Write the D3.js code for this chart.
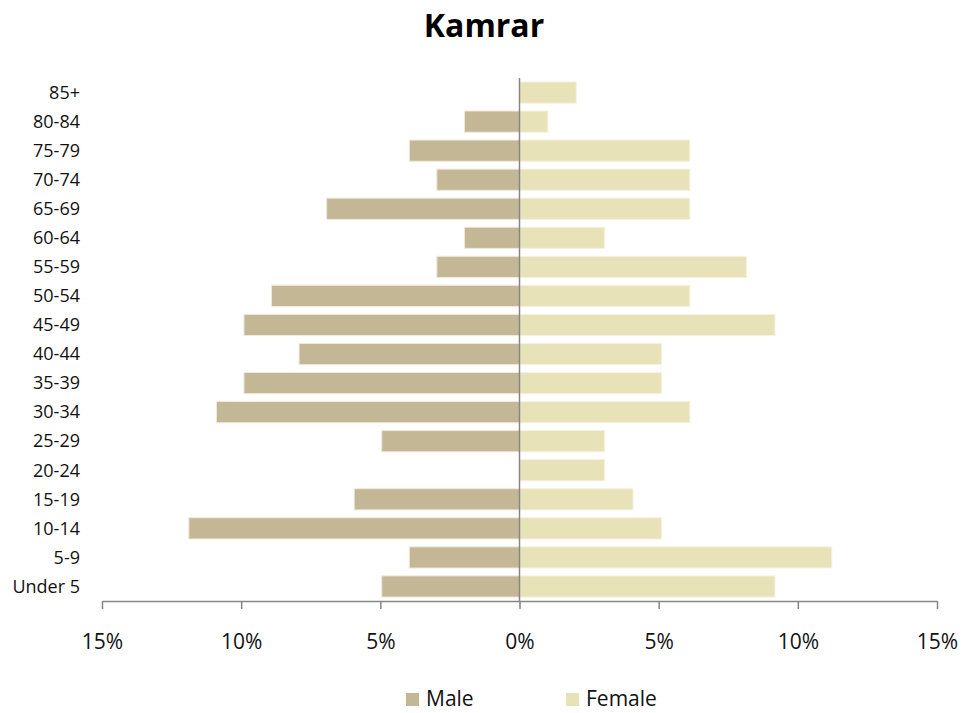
<!DOCTYPE html>
<html>
<head>
<meta charset="utf-8">
<title>Kamrar</title>
<script src="https://cdn.jsdelivr.net/npm/d3@7"></script>
<style>
  body { margin: 0; background: #fff; }
  svg { font-family: "Open Sans", "DejaVu Sans", sans-serif; }
</style>
</head>
<body>
<svg id="chart" width="979" height="713"></svg>
<script>
// age groups, top to bottom
const ageGroups = ["85+", "80-84", "75-79", "70-74", "65-69", "60-64", "55-59", "50-54",
  "45-49", "40-44", "35-39", "30-34", "25-29", "20-24", "15-19", "10-14", "5-9", "Under 5"];
// percent of population
const maleValues = [0, 1.98, 3.96, 2.97, 6.93, 1.98, 2.97, 8.91,
  9.9, 7.92, 9.9, 10.89, 4.95, 0, 5.94, 11.88, 3.96, 4.95];
const femaleValues = [2.04, 1.02, 6.12, 6.12, 6.12, 3.06, 8.16, 6.12,
  9.18, 5.1, 5.1, 6.12, 3.06, 3.06, 4.08, 5.1, 11.22, 9.18];
const xTicks = [-15, -10, -5, 0, 5, 10, 15];
const seriesNames = ["Male", "Female"];
const colors = { Male: "#c4b795", Female: "#e8e2b8" };

const svg = d3.select("#chart");

const x = d3.scaleLinear().domain([-15, 15]).range([102, 937]);
const y = d3.scaleBand().domain(ageGroups).range([78, 601]).paddingInner(0.27).paddingOuter(0.135);

// title
svg.append("text")
  .attr("x", 484).attr("y", 37)
  .attr("text-anchor", "middle")
  .style("font-size", "32px").style("font-weight", "bold")
  .text("Kamrar");

// bars
const rows = ageGroups.map((g, i) => ({ g, male: maleValues[i], female: femaleValues[i] }));

svg.append("g").selectAll("rect")
  .data(rows.filter(d => d.male > 0))
  .join("rect")
  .attr("x", d => x(-d.male))
  .attr("y", d => y(d.g))
  .attr("width", d => x(0) - x(-d.male))
  .attr("height", y.bandwidth())
  .attr("fill", colors.Male)
  .attr("stroke", "#efeadc").attr("stroke-width", 1);

svg.append("g").selectAll("rect")
  .data(rows.filter(d => d.female > 0))
  .join("rect")
  .attr("x", x(0))
  .attr("y", d => y(d.g))
  .attr("width", d => x(d.female) - x(0))
  .attr("height", y.bandwidth())
  .attr("fill", colors.Female)
  .attr("stroke", "#f5f2e2").attr("stroke-width", 1);

// category labels
svg.append("g").selectAll("text")
  .data(ageGroups)
  .join("text")
  .attr("x", 80)
  .attr("y", d => y(d) + y.bandwidth() / 2)
  .attr("dy", "0.35em")
  .attr("text-anchor", "end")
  .style("font-size", "18px")
  .attr("fill", "#111")
  .text(d => d);

// center line
svg.append("line")
  .attr("x1", x(0)).attr("x2", x(0))
  .attr("y1", 78).attr("y2", 601)
  .attr("stroke", "#868686").attr("stroke-width", 1.5);

// x axis
const xAxis = svg.append("g")
  .attr("transform", "translate(0,601)")
  .call(d3.axisBottom(x)
    .tickValues(xTicks)
    .tickFormat(d => Math.abs(d) + "%")
    .tickSize(8)
    .tickSizeOuter(0)
    .tickPadding(25));
xAxis.select(".domain").attr("stroke", "#868686").attr("stroke-width", 1.5);
xAxis.selectAll(".tick line").attr("stroke", "#868686").attr("stroke-width", 1.5);
xAxis.selectAll(".tick text")
  .attr("fill", "#111")
  .style("font-size", "21px")
  .style("font-family", "'Open Sans', sans-serif");

// legend
const legendX = [406, 566];
const legend = svg.append("g").selectAll("g")
  .data(seriesNames)
  .join("g")
  .attr("transform", (d, i) => `translate(${legendX[i]},693)`);
legend.append("rect")
  .attr("width", 13).attr("height", 13)
  .attr("fill", d => colors[d]);
legend.append("text")
  .attr("x", 20).attr("y", 13)
  .style("font-size", "21px")
  .attr("fill", "#111")
  .text(d => d);
</script>
</body>
</html>
